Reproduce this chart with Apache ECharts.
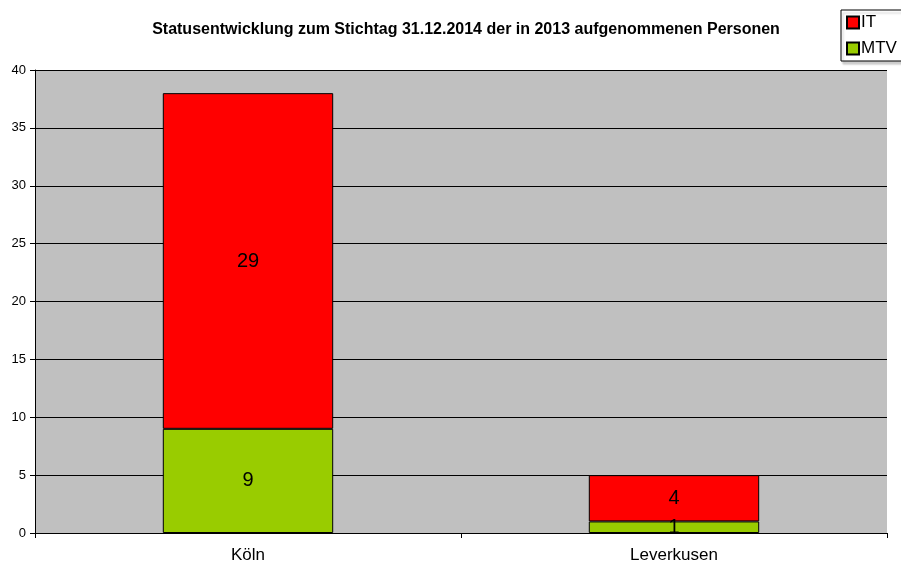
<html>
<head>
    <meta charset='utf-8' />
    <script src="https://cdn.jsdelivr.net/npm/echarts@6/dist/echarts.min.js"></script>
    <title>Statusentwicklung</title>
    <style>
        body { margin: 0; background: #fff; }
        #chart { width: 901px; height: 570px; }
    </style>
</head>
<body>
    <div id="chart"></div>
    <script type="text/javascript">
        var categories = ['Köln', 'Leverkusen'];
        var mtvValues = [9, 1];
        var itValues = [29, 4];
        var yTicks = [0, 5, 10, 15, 20, 25, 30, 35, 40];

        var chart = echarts.init(document.getElementById('chart'));
        var font = 'Liberation Sans, Arial, sans-serif';

        var option = {
            animation: false,
            textStyle: { fontFamily: font },
            title: {
                text: 'Statusentwicklung zum Stichtag 31.12.2014 der in 2013 aufgenommenen Personen',
                left: 461,
                textAlign: 'center',
                top: 17,
                textStyle: { fontSize: 16, fontWeight: 'bold', color: '#000', fontFamily: font }
            },
            legend: {
                data: ['IT', 'MTV'],
                orient: 'vertical',
                left: 841,
                top: 10,
                padding: [4, 20, 4, 5],
                itemGap: 9,
                icon: 'rect',
                itemWidth: 12,
                itemHeight: 12,
                borderColor: '#000',
                borderWidth: 1,
                backgroundColor: '#fff',
                shadowColor: 'rgba(0,0,0,0.2)',
                shadowOffsetX: 2,
                shadowOffsetY: 3,
                shadowBlur: 2,
                textStyle: { fontSize: 17, color: '#000', padding: [0, 0, 0, -3], fontFamily: font }
            },
            grid: { left: 35, right: 14, top: 70, bottom: 37, show: true, backgroundColor: '#c0c0c0', borderWidth: 0 },
            xAxis: {
                type: 'category',
                data: categories,
                axisLine: { lineStyle: { color: '#000' } },
                axisTick: { show: true, length: 5, lineStyle: { color: '#000' } },
                axisLabel: { fontSize: 17, color: '#000', margin: 14 }
            },
            yAxis: {
                type: 'value',
                min: yTicks[0],
                max: yTicks[yTicks.length - 1],
                interval: 5,
                axisLine: { show: true, lineStyle: { color: '#000' } },
                axisTick: { show: true, length: 5, lineStyle: { color: '#000' } },
                axisLabel: { fontSize: 13, color: '#000', margin: 9 },
                splitLine: { lineStyle: { color: '#000', width: 1 } }
            },
            series: [{
                name: 'MTV',
                type: 'bar',
                stack: 'total',
                data: mtvValues,
                barWidth: '40%',
                itemStyle: { color: '#99cc00', borderColor: '#000', borderWidth: 1 },
                label: { show: true, position: 'inside', fontSize: 20, color: '#000' }
            }, {
                name: 'IT',
                type: 'bar',
                stack: 'total',
                data: itValues,
                barWidth: '40%',
                itemStyle: { color: '#ff0000', borderColor: '#000', borderWidth: 1 },
                label: { show: true, position: 'inside', fontSize: 20, color: '#000' }
            }]
        };
        chart.setOption(option);
    </script>
</body>
</html>
